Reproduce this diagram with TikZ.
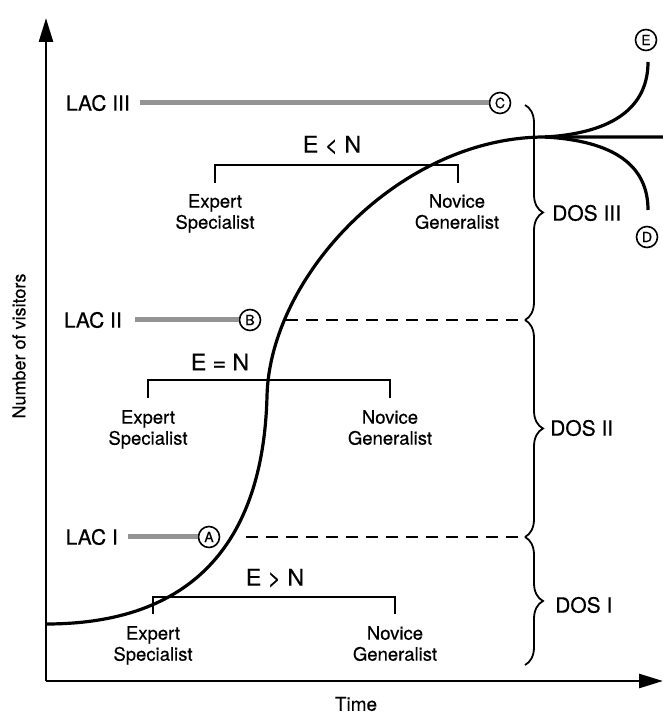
\documentclass[tikz,border=0pt]{standalone}
\usepackage{fontspec}
\setmainfont{TeX Gyre Heros}[FakeBold=0.4]
\usetikzlibrary{decorations.pathreplacing,arrows.meta}
\begin{document}
\begin{tikzpicture}[x=1pt,y=1pt,
 lab/.style={font=\fontsize{21}{24}\selectfont, inner sep=0pt},
 big/.style={font=\fontsize{23}{26}\selectfont, inner sep=0pt},
 sub/.style={font=\fontsize{18.5}{21}\selectfont, align=center, inner sep=0pt, anchor=north},
 circ/.style={circle, draw, line width=1.6pt, inner sep=0pt, minimum size=21pt, font=\fontsize{14}{14}\selectfont},
 bar/.style={line width=5pt, color=black!42},
 brk/.style={line width=2.4pt},
 dsh/.style={line width=2.2pt, dash pattern=on 12pt off 8pt},
 brc/.style={decorate, decoration={brace, amplitude=18pt}, line width=1.8pt},
 ax/.style={line width=2.6pt, -{Triangle[length=24pt,width=14pt]}},
 crv/.style={line width=3.2pt}]
\useasboundingbox (0,0) rectangle (663,716);
% axes
\coordinate (O) at (46,35);
\coordinate (yt) at (46,698);
\coordinate (xt) at (663,35);
\draw[ax] (O) -- (yt);
\draw[ax] (O) -- (xt);
\node[lab, rotate=90, font=\fontsize{18}{20}\selectfont] (ylab) at (19,370) {Number of visitors};
\node[lab, font=\fontsize{19}{20}\selectfont] (xlab) at (356,12) {Time};
% curve
\coordinate (c0) at (46,92);
\coordinate (cm) at (267,320);
\coordinate (cj) at (545,579);
\coordinate (cr) at (663,579);
\coordinate (ce) at (648,654);
\coordinate (cd) at (648,506);
\draw[crv] (c0) .. controls (215,92) and (264,200) .. (cm)
  .. controls (270,440) and (400,579) .. (cj) -- (cr);
\draw[crv] (cj) .. controls (615,583) and (648,610) .. (ce);
\draw[crv] (cj) .. controls (615,575) and (648,550) .. (cd);
\node[circ] (E) at (646,676) {E};
\node[circ] (D) at (647,479) {D};
% LAC III
\node[lab, anchor=east] (lac3) at (130,613) {LAC III};
\node[circ] (C) at (500,613) {C};
\coordinate (b3s) at (140,613);
\draw[bar] (b3s) -- (C.west);
\coordinate (br3a) at (525,611);
\coordinate (br3b) at (525,396);
\draw[brc] (br3a) -- (br3b);
\node[lab, anchor=west] (dos3) at (552,503) {DOS III};
\node[big] (en3) at (332,571) {E < N};
\coordinate (k3a) at (215,533);
\coordinate (k3b) at (215,551);
\coordinate (k3c) at (458,551);
\coordinate (k3d) at (458,533);
\draw[brk] (k3a) -- (k3b) -- (k3c) -- (k3d);
\node[sub] (es3) at (215,522) {Expert\\Specialist};
\node[sub] (ng3) at (457,522) {Novice\\Generalist};
% LAC II
\node[lab, anchor=east] (lac2) at (122,396) {LAC II};
\node[circ] (B) at (250,396) {B};
\coordinate (b2s) at (135,396);
\draw[bar] (b2s) -- (B.west);
\coordinate (d2s) at (286,396);
\coordinate (d2e) at (527,396);
\draw[dsh] (d2s) -- (d2e);
\coordinate (br2b) at (525,179);
\draw[brc] (br3b) -- (br2b);
\node[lab, anchor=west] (dos2) at (550,288) {DOS II};
\node[big] (en2) at (220,354) {E = N};
\coordinate (k2a) at (148,318);
\coordinate (k2b) at (148,336);
\coordinate (k2c) at (390,336);
\coordinate (k2d) at (390,318);
\draw[brk] (k2a) -- (k2b) -- (k2c) -- (k2d);
\node[sub] (es2) at (148,306) {Expert\\Specialist};
\node[sub] (ng2) at (390,306) {Novice\\Generalist};
% LAC I
\node[lab, anchor=east] (lac1) at (118,179) {LAC I};
\node[circ] (A) at (209,179) {A};
\coordinate (b1s) at (128,179);
\draw[bar] (b1s) -- (A.west);
\coordinate (d1s) at (246,179);
\coordinate (d1e) at (527,179);
\draw[dsh] (d1s) -- (d1e);
\coordinate (br1b) at (525,51);
\draw[brc] (br2b) -- (br1b);
\node[lab, anchor=west] (dos1) at (555,111) {DOS I};
\node[big] (en1) at (275,138) {E > N};
\coordinate (k1a) at (153,102);
\coordinate (k1b) at (153,119);
\coordinate (k1c) at (395,119);
\coordinate (k1d) at (395,102);
\draw[brk] (k1a) -- (k1b) -- (k1c) -- (k1d);
\node[sub] (es1) at (153,90) {Expert\\Specialist};
\node[sub] (ng1) at (395,90) {Novice\\Generalist};
\end{tikzpicture}
\end{document}
